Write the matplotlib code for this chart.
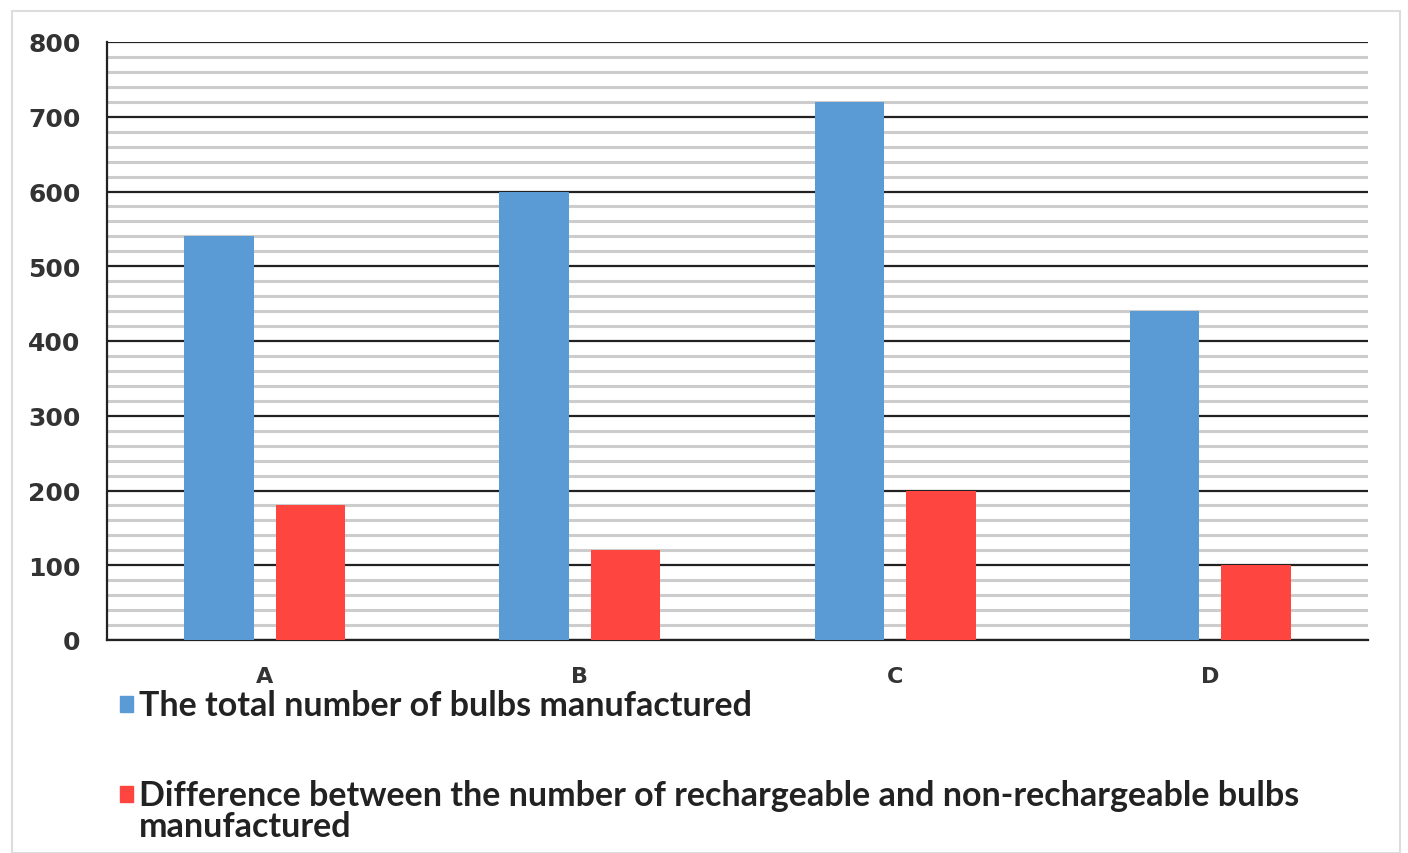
import matplotlib
matplotlib.use("Agg")
import matplotlib.pyplot as plt
import numpy as np
from matplotlib.patches import Rectangle

categories = ["A", "B", "C", "D"]
total_bulbs = [540, 600, 720, 440]
difference = [180, 120, 200, 100]
series_labels = ["The total number of bulbs manufactured",
                 "Difference between the number of rechargeable and non-rechargeable bulbs\nmanufactured"]
yticks = [0, 100, 200, 300, 400, 500, 600, 700, 800]

blue = "#5B9BD5"
red = "#FF4540"

fig = plt.figure(figsize=(14.08, 8.54), dpi=100)
fig.patch.set_facecolor("white")
fig.add_artist(Rectangle((12/1408, 0), (1400-12)/1408, 1-12/854, transform=fig.transFigure,
                         fill=False, edgecolor="#dddddd", linewidth=1.5))

ax = fig.add_axes([107/1408, 1-641/854, (1368-107)/1408, (641-43)/854])
x = np.arange(len(categories)) + 0.5
w = 0.22
off = 0.145
ax.bar(x - off, total_bulbs, w, color=blue, zorder=3)
ax.bar(x + off, difference, w, color=red, zorder=3)

ax.set_xlim(0, 4)
ax.set_ylim(0, 800)
ax.set_yticks(yticks)
ax.set_yticks(np.arange(0, 801, 20), minor=True)
ax.grid(which="minor", axis="y", color="#cccccc", linewidth=2.2, zorder=1)
ax.grid(which="major", axis="y", color="#222222", linewidth=1.6, zorder=2)
ax.set_xticks(x)
ax.set_xticklabels(categories, fontsize=16, fontweight="bold", family="DejaVu Sans", color="#333333")
ax.set_yticklabels([str(v) for v in yticks], fontsize=18, fontweight="bold", family="DejaVu Sans", color="#333333")
ax.tick_params(axis="both", which="both", length=0)
ax.tick_params(axis="y", pad=19)
ax.tick_params(axis="x", pad=19)
for s in ["top", "right"]:
    ax.spines[s].set_visible(False)
ax.spines["left"].set_color("#222222")
ax.spines["left"].set_linewidth(1.6)
ax.spines["bottom"].set_color("#222222")
ax.spines["bottom"].set_linewidth(1.6)

# legend entries
for (ytop, col, lab) in [(697, blue, series_labels[0]), (787, red, series_labels[1])]:
    fig.add_artist(Rectangle((120/1408, 1-(ytop+16)/854), 13/1408, 16/854, transform=fig.transFigure,
                             color=col))
    fig.text(139/1408, 1-(ytop-7)/854, lab, fontsize=24.5, fontweight="bold", family="Lato",
             color="#222222", va="top", ha="left", linespacing=0.98)

fig.savefig("out.png", dpi=100)
